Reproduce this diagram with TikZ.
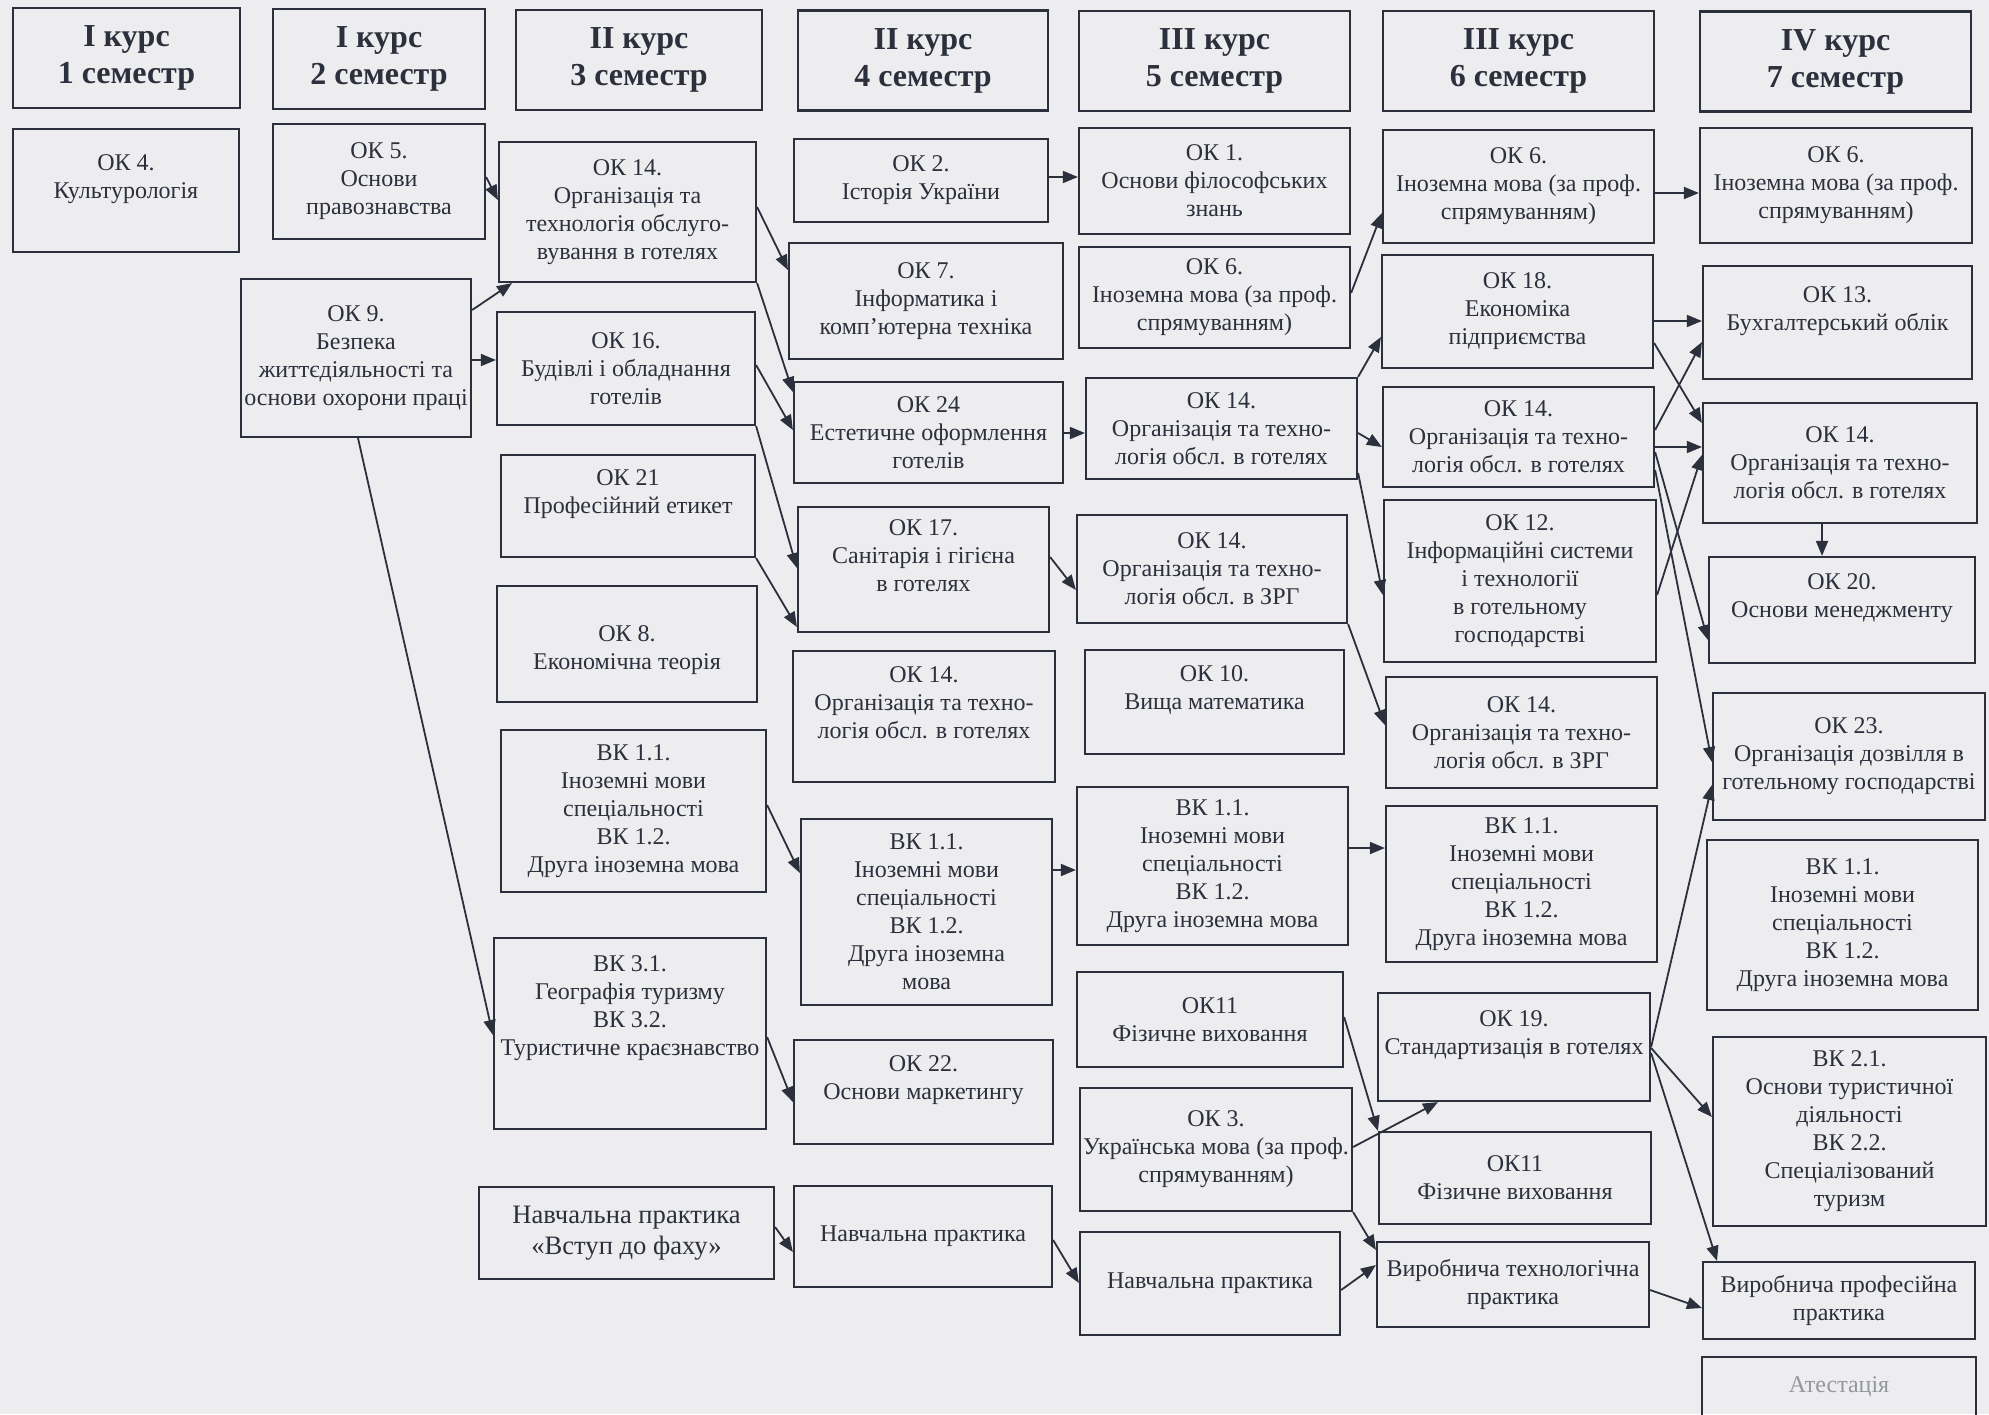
\documentclass[tikz,border=0pt]{standalone}
\usepackage{fontspec}
\setmainfont{Liberation Serif}
\usepackage{xcolor}
\usetikzlibrary{arrows.meta}

\definecolor{paper}{RGB}{237,237,239}
\definecolor{ink}{RGB}{44,48,60}

\begin{document}
\begin{tikzpicture}[
    x=0.5pt, y=-0.5pt,
    wd/.style={minimum width=#1*0.5pt},
    ht/.style={minimum height=#1*0.5pt},
    head/.style={rectangle, draw=ink, line width=1.1pt, text=ink, align=center, inner sep=1pt, minimum height=50pt, font=\fontsize{16}{18.5}\selectfont\bfseries},
    box/.style={rectangle, draw=ink, line width=1.1pt, text=ink, align=center, inner sep=1pt, font=\fontsize{12}{14}\selectfont},
    arrow/.style={-{Triangle[length=7.5pt, width=6pt]}, line width=0.9pt, draw=ink},
]
\useasboundingbox (0,0) rectangle (1989,1414);
\fill[paper] (0,0) rectangle (1989,1414);

% --- Column headers ---
\node[head, wd=227] (h1) at (126.5,58) {I курс\\1 семестр};
\node[head, wd=212] (h2) at (379,59)   {I курс\\2 семестр};
\node[head, wd=246] (h3) at (639,60)   {II курс\\3 семестр};
\node[head, wd=250] (h4) at (923,60.5) {II курс\\4 семестр};
\node[head, wd=271] (h5) at (1214.5,61) {III курс\\5 семестр};
\node[head, wd=271] (h6) at (1518.5,61) {III курс\\6 семестр};
\node[head, wd=271] (h7) at (1835.5,61.5) {IV курс\\7 семестр};

% --- I course ---
\node[box, wd=226, ht=123] (ok4) at (126,190.5) {ОК 4.\\Культурологія\\~};
\node[box, wd=212, ht=115] (ok5) at (379,181.5) {ОК 5.\\Основи\\правознавства};
\node[box, wd=230, ht=158] (ok9) at (356,358) {ОК 9.\\Безпека\\життєдіяльності та\\основи охорони праці};

% --- 3 semester ---
\node[box, wd=257, ht=140] (ok14a) at (627.5,212) {ОК 14.\\Організація та\\технологія обслуго-\\вування в готелях};
\node[box, wd=258, ht=113] (ok16) at (626,368.5) {ОК 16.\\Будівлі і обладнання\\готелів};
\node[box, wd=254, ht=102] (ok21) at (628,506) {ОК 21\\Професійний етикет\\~};
\node[box, wd=260, ht=116] (ok8) at (627,644) {~\\ОК 8.\\Економічна теорія};
\node[box, wd=265, ht=162] (vk11a) at (633.5,811) {ВК 1.1.\\Іноземні мови\\спеціальності\\ВК 1.2.\\Друга іноземна мова};
\node[box, wd=272, ht=191] (vk31) at (630,1033.5) {ВК 3.1.\\Географія туризму\\ВК 3.2.\\Туристичне краєзнавство\\~\\~};
\node[box, wd=295, ht=92, font=\fontsize{13.3}{15.5}\selectfont] (npa) at (626.5,1233) {Навчальна практика\\«Вступ до фаху»};

% --- 4 semester ---
\node[box, wd=254, ht=83]  (ok2) at (921,180.5) {ОК 2.\\Історія України};
\node[box, wd=274, ht=116] (ok7) at (926,301) {ОК 7.\\Інформатика і\\комп’ютерна техніка};
\node[box, wd=269, ht=101] (ok24) at (928.5,432.5) {ОК 24\\Естетичне оформлення\\готелів};
\node[box, wd=251, ht=125] (ok17) at (923.5,569.5) {ОК 17.\\Санітарія і гігієна\\в готелях\\~};
\node[box, wd=262, ht=131] (ok14b) at (924,716.5) {ОК 14.\\Організація та техно-\\логія обсл. в готелях\\~};
\node[box, wd=251, ht=186] (vk11b) at (926.5,912) {ВК 1.1.\\Іноземні мови\\спеціальності\\ВК 1.2.\\Друга іноземна\\мова};
\node[box, wd=259, ht=104] (ok22) at (923.5,1092) {ОК 22.\\Основи маркетингу\\~};
\node[box, wd=258, ht=101] (npb) at (923,1236.5) {Навчальна практика};

% --- 5 semester ---
\node[box, wd=271, ht=106] (ok1) at (1214.5,181) {ОК 1.\\Основи філософських\\знань};
\node[box, wd=271, ht=101] (ok6a) at (1214.5,297.5) {ОК 6.\\Іноземна мова (за проф.\\спрямуванням)};
\node[box, wd=271, ht=101] (ok14c) at (1221.5,428.5) {ОК 14.\\Організація та техно-\\логія обсл. в готелях};
\node[box, wd=270, ht=108] (ok14z) at (1212,569) {ОК 14.\\Організація та техно-\\логія обсл. в ЗРГ};
\node[box, wd=259, ht=104] (ok10) at (1214.5,702) {ОК 10.\\Вища математика\\~};
\node[box, wd=271, ht=158] (vk11c) at (1212.5,866) {ВК 1.1.\\Іноземні мови\\спеціальності\\ВК 1.2.\\Друга іноземна мова};
\node[box, wd=266, ht=95]  (ok11a) at (1210,1019.5) {ОК11\\Фізичне виховання};
\node[box, wd=272, ht=123] (ok3) at (1216,1149.5) {ОК 3.\\Українська мова (за проф.\\спрямуванням)};
\node[box, wd=260, ht=103] (npc) at (1210,1283.5) {Навчальна практика};

% --- 6 semester ---
\node[box, wd=271, ht=113] (ok6b) at (1518.5,186.5) {ОК 6.\\Іноземна мова (за проф.\\спрямуванням)};
\node[box, wd=271, ht=113] (ok18) at (1517.5,311.5) {ОК 18.\\Економіка\\підприємства};
\node[box, wd=271, ht=100] (ok14d) at (1518.5,437) {ОК 14.\\Організація та техно-\\логія обсл. в готелях};
\node[box, wd=272, ht=162] (ok12) at (1520,581) {ОК 12.\\Інформаційні системи\\і технології\\в готельному\\господарстві};
\node[box, wd=271, ht=111] (ok14y) at (1521.5,732.5) {ОК 14.\\Організація та техно-\\логія обсл. в ЗРГ};
\node[box, wd=271, ht=156] (vk11d) at (1521.5,884) {ВК 1.1.\\Іноземні мови\\спеціальності\\ВК 1.2.\\Друга іноземна мова};
\node[box, wd=272, ht=108] (ok19) at (1514,1047) {ОК 19.\\Стандартизація в готелях\\~};
\node[box, wd=272, ht=92]  (ok11b) at (1515,1178) {ОК11\\Фізичне виховання};
\node[box, wd=272, ht=85]  (vtp) at (1513,1284.5) {Виробнича технологічна\\практика};

% --- 7 semester ---
\node[box, wd=272, ht=115] (ok6c) at (1836,185.5) {ОК 6.\\Іноземна мова (за проф.\\спрямуванням)};
\node[box, wd=269, ht=113] (ok13) at (1837.5,322.5) {ОК 13.\\Бухгалтерський облік\\~};
\node[box, wd=274, ht=120] (ok14e) at (1840,463) {ОК 14.\\Організація та техно-\\логія обсл. в готелях};
\node[box, wd=266, ht=106] (ok20) at (1842,610) {ОК 20.\\Основи менеджменту\\~};
\node[box, wd=272, ht=127] (ok23) at (1849,756.5) {ОК 23.\\Організація дозвілля в\\готельному господарстві};
\node[box, wd=271, ht=170] (vk11e) at (1842.5,925) {ВК 1.1.\\Іноземні мови\\спеціальності\\ВК 1.2.\\Друга іноземна мова};
\node[box, wd=273, ht=189] (vk21) at (1849.5,1131.5) {ВК 2.1.\\Основи туристичної\\діяльності\\ВК 2.2.\\Спеціалізований\\туризм};
\node[box, wd=272, ht=77]  (vpp) at (1839,1300.5) {Виробнича професійна\\практика};
\node[box, wd=274, ht=83, text=ink!50] (att) at (1839,1398.5) {Атестація\\~};

% --- Arrows ---
\draw[arrow] (ok5.east |- 0,177) -- (ok14a.west |- 0,200);
\draw[arrow] (ok9.east |- 0,310) -- (512,0 |- ok14a.south);
\draw[arrow] (ok9.east |- 0,360) -- (ok16.west |- 0,360);
\draw[arrow] (358,0 |- ok9.south) -- (vk31.west |- 0,1035);

\draw[arrow] (ok14a.east |- 0,207) -- (ok7.west |- 0,270);
\draw[arrow] (ok14a.south east) -- (ok24.west |- 0,392);
\draw[arrow] (ok16.east |- 0,365) -- (ok24.west |- 0,430);
\draw[arrow] (ok16.south east) -- (ok17.west |- 0,568);
\draw[arrow] (ok21.south east) -- (ok17.west |- 0,627);
\draw[arrow] (vk11a.east |- 0,805) -- (vk11b.west |- 0,873);
\draw[arrow] (vk31.east |- 0,1037) -- (ok22.west |- 0,1102);
\draw[arrow] (npa.east |- 0,1227) -- (npb.west |- 0,1252);

\draw[arrow] (ok2.east |- 0,177) -- (ok1.west |- 0,177);
\draw[arrow] (ok24.east |- 0,433) -- (ok14c.west |- 0,433);
\draw[arrow] (ok17.east |- 0,557) -- (ok14z.west |- 0,590);
\draw[arrow] (vk11b.east |- 0,870) -- (vk11c.west |- 0,870);
\draw[arrow] (npb.east |- 0,1240) -- (npc.west |- 0,1283);

\draw[arrow] (ok6a.east |- 0,293) -- (ok6b.west |- 0,213);
\draw[arrow] (ok14c.north east) -- (ok18.west |- 0,337);
\draw[arrow] (ok14c.east |- 0,433) -- (ok14d.west |- 0,447);
\draw[arrow] (ok14c.east |- 0,473) -- (ok12.west |- 0,595);
\draw[arrow] (ok14z.south east) -- (ok14y.west |- 0,725);
\draw[arrow] (vk11c.east |- 0,848) -- (vk11d.west |- 0,848);
\draw[arrow] (ok11a.east |- 0,1017) -- (ok11b.north west);
\draw[arrow] (ok3.east |- 0,1147) -- (1438,0 |- ok19.south);
\draw[arrow] (ok3.south east) -- (vtp.west |- 0,1250);
\draw[arrow] (npc.east |- 0,1290) -- (vtp.west |- 0,1265);

\draw[arrow] (ok6b.east |- 0,193) -- (ok6c.west |- 0,193);
\draw[arrow] (ok18.east |- 0,321) -- (ok13.west |- 0,321);
\draw[arrow] (ok18.east |- 0,343) -- (ok14e.west |- 0,423);
\draw[arrow] (ok14d.east |- 0,430) -- (ok13.west |- 0,342);
\draw[arrow] (ok14d.east |- 0,447) -- (ok14e.west |- 0,447);
\draw[arrow] (ok14d.east |- 0,452) -- (ok20.west |- 0,640);
\draw[arrow] (ok14d.east |- 0,470) -- (ok23.west |- 0,762);
\draw[arrow] (ok12.east |- 0,595) -- (ok14e.west |- 0,455);
\draw[arrow] (ok19.east |- 0,1047) -- (ok23.west |- 0,785);
\draw[arrow] (ok19.east |- 0,1048) -- (vk21.west |- 0,1117);
\draw[arrow] (ok19.east |- 0,1053) -- (1717,0 |- vpp.north);
\draw[arrow] (vtp.east |- 0,1290) -- (vpp.west |- 0,1308);
\draw[arrow] (1822,0 |- ok14e.south) -- (1822,0 |- ok20.north);

\end{tikzpicture}
\end{document}
